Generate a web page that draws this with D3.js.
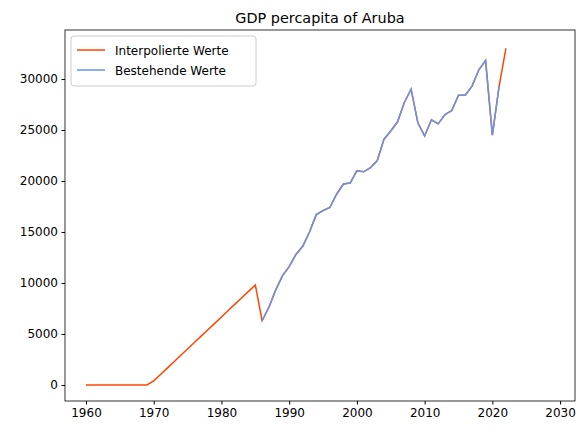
<!DOCTYPE html>
<html>
<head>
<meta charset="utf-8">
<script src="https://d3js.org/d3.v7.min.js"></script>
<style>
  body { margin: 0; background: #fff; font-family: "DejaVu Sans", sans-serif; }
  .tick text { font-size: 12px; fill: #000; font-family: "DejaVu Sans", sans-serif; }
</style>
</head>
<body>
<script>
var years = d3.range(1960, 2023);
var interpValues = [0,0,0,0,0,0,0,0,0,0,
  400,1027,1654,2281,2908,3535,4162,4789,5416,6043,6670,7297,7924,8551,9178,9805,
  6300,7600,9300,10700,11600,12800,13600,15000,16700,17100,17400,18700,19700,19800,
  21000,20900,21300,22000,24100,24900,25800,27700,29000,25700,24400,26000,25600,26500,
  26900,28400,28400,29300,30900,31800,24500,29300,33000];
var existYears = d3.range(1986, 2022);
var existValues = [6300,7600,9300,10700,11600,12800,13600,15000,16700,17100,17400,18700,19700,19800,
  21000,20900,21300,22000,24100,24900,25800,27700,29000,25700,24400,26000,25600,26500,
  26900,28400,28400,29300,30900,31800,24500,29300];
var xTicks = [1960,1970,1980,1990,2000,2010,2020,2030];
var yTicks = [0,5000,10000,15000,20000,25000,30000];

var w = 587, h = 435, mLeft = 65, mRight = 575, mTop = 30, mBottom = 401;
var svg = d3.select("body").append("svg").attr("width", w).attr("height", h);
var x = d3.scaleLinear().domain([1956.9, 2032.2]).range([mLeft, mRight]);
var y = d3.scaleLinear().domain([-1570, 34800]).range([mBottom, mTop]);

svg.append("g").attr("transform", "translate(0," + mBottom + ")")
  .call(d3.axisBottom(x).tickValues(xTicks).tickFormat(d3.format("d")).tickSize(3.5).tickPadding(3.5))
  .call(g => g.select(".domain").remove());
svg.append("g").attr("transform", "translate(" + mLeft + ",0)")
  .call(d3.axisLeft(y).tickValues(yTicks).tickFormat(d3.format("d")).tickSize(3.5).tickPadding(3.5))
  .call(g => g.select(".domain").remove());
svg.append("rect").attr("x", mLeft).attr("y", mTop).attr("width", mRight - mLeft).attr("height", mBottom - mTop)
  .attr("fill", "none").attr("stroke", "#000").attr("stroke-width", 0.8);

var line = d3.line().x(d => x(d[0])).y(d => y(d[1]));
svg.append("path").datum(years.map((yr, i) => [yr, interpValues[i]]))
  .attr("d", line).attr("fill", "none").attr("stroke", "#ff4500").attr("stroke-width", 1.5);
svg.append("path").datum(existYears.map((yr, i) => [yr, existValues[i]]))
  .attr("d", line).attr("fill", "none").attr("stroke", "#6495ed").attr("stroke-width", 1.5);

svg.append("text").attr("x", (mLeft + mRight) / 2).attr("y", 23).attr("text-anchor", "middle")
  .attr("font-size", 14.4).text("GDP percapita of Aruba");

var lg = svg.append("g").attr("transform", "translate(71,36)");
lg.append("rect").attr("width", 185).attr("height", 50).attr("rx", 3)
  .attr("fill", "#fff").attr("fill-opacity", 0.8).attr("stroke", "#ccc");
[["Interpolierte Werte", "#ff4500"], ["Bestehende Werte", "#6495ed"]].forEach(function (d, i) {
  var yy = 14 + i * 20;
  lg.append("line").attr("x1", 6).attr("x2", 34).attr("y1", yy).attr("y2", yy)
    .attr("stroke", d[1]).attr("stroke-width", 1.5);
  lg.append("text").attr("x", 44).attr("y", yy + 4.5).attr("font-size", 12).text(d[0]);
});
</script>
</body>
</html>
